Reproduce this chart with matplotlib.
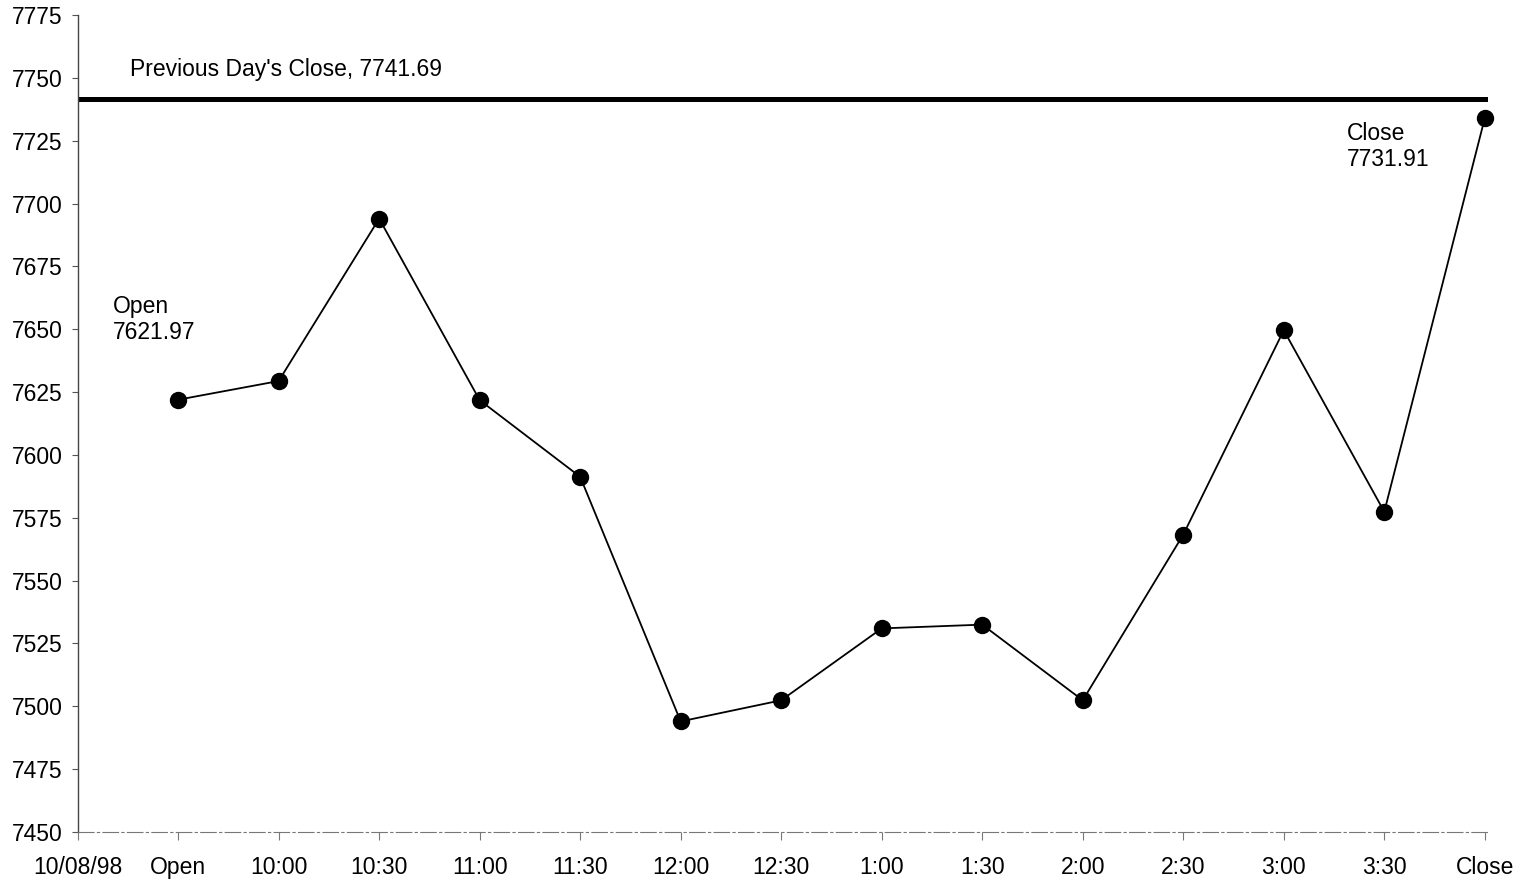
import numpy as np
import matplotlib
matplotlib.use('Agg')
import matplotlib.pyplot as plt

plt.rcParams['font.family'] = ['Liberation Sans', 'DejaVu Sans']

# data
times = ['Open', '10:00', '10:30', '11:00', '11:30', '12:00', '12:30',
         '1:00', '1:30', '2:00', '2:30', '3:00', '3:30', 'Close']
dow = [7621.97, 7629.4, 7694.0, 7621.8, 7591.3, 7494.0, 7502.4,
       7531.0, 7532.5, 7502.4, 7568.3, 7649.6, 7577.4, 7734.0]
prev_close = 7741.69
date_label = '10/08/98'
yticks = list(range(7450, 7776, 25))

fig = plt.figure(figsize=(15.37, 8.84), dpi=100)
ax = fig.add_axes([0.0505, 0.0588, 0.9175, 0.9242])

x = np.arange(len(times))
ax.axhline(prev_close, color='black', lw=3.6, zorder=2)
ax.plot(x, dow, '-', color='black', lw=1.3, marker='o', markersize=11.5,
        zorder=3, clip_on=False)

ax.set_xlim(-1, len(times) - 1 + 0.03)
ax.set_ylim(7450, 7775)
ax.set_yticks(yticks)
ax.set_xticks(np.arange(-1, len(times)))
ax.set_xticklabels([date_label] + times)

for s in ['top', 'right']:
    ax.spines[s].set_visible(False)
ax.spines['left'].set_color('#444444')
ax.spines['left'].set_linewidth(1.0)
ax.spines['bottom'].set_color('#777777')
ax.spines['bottom'].set_linewidth(0.8)
ax.spines['bottom'].set_linestyle((0, (14, 3, 2, 3)))

ax.tick_params(axis='y', direction='out', length=4, width=0.8,
               color='#555555', labelsize=16.5, pad=7)
ax.tick_params(axis='x', direction='out', length=6, width=0.8,
               color='#777777', labelsize=16.5, pad=11)

ax.text(-0.48, 7753.2, "Previous Day's Close, %.2f" % prev_close,
        fontsize=16.5, ha='left', va='center')
ax.text(-0.647, 7654, 'Open\n%.2f' % dow[0], fontsize=16.5, ha='left',
        va='center', linespacing=1.15)
ax.text(11.63, 7722.8, 'Close\n7731.91', fontsize=16.5, ha='left',
        va='center', linespacing=1.15)

plt.savefig('out.png', dpi=100)
